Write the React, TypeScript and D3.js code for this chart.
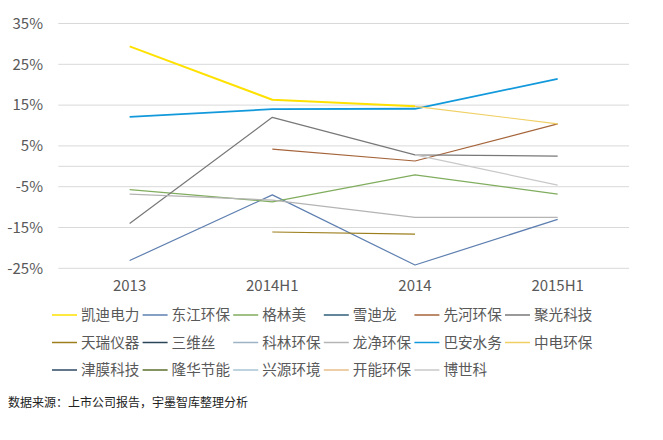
import React from "react";
import * as d3 from "d3";

// categories and tick values
const categories = ["2013", "2014H1", "2014", "2015H1"];
const yTicks = [-25, -15, -5, 5, 15, 25, 35];

// growth values (%); null = no point
const kaidi = [29.4, 16.3, 14.7, null];
const dongjiang = [-23.1, -7.0, -24.2, -13.0];
const gelinmei = [-5.7, -8.7, -2.1, -6.8];
const juguang = [-14.0, 12.0, 2.8, 2.5];
const xianhe = [null, 4.2, 1.3, 10.4];
const tianrui = [null, -16.1, -16.6, null];
const longjing = [-6.8, -8.3, -12.5, -12.5];
const baan = [12.1, 14.0, 14.1, 21.4];
const zhongdian = [null, null, 14.7, 10.4];
const boshike = [null, null, 2.8, -4.6];
const empty = [null, null, null, null];

const names = [
  "凯迪电力", "东江环保", "格林美", "雪迪龙", "先河环保", "聚光科技",
  "天瑞仪器", "三维丝", "科林环保", "龙净环保", "巴安水务", "中电环保",
  "津膜科技", "隆华节能", "兴源环境", "开能环保", "博世科",
];
const values = [
  kaidi, dongjiang, gelinmei, empty, xianhe, juguang,
  tianrui, empty, empty, longjing, baan, zhongdian,
  empty, empty, empty, empty, boshike,
];
const colors = [
  "#ffe100", "#5e7fb0", "#80ad5e", "#2f5f78", "#a5643a", "#787878",
  "#9c7e1c", "#2a4458", "#9db3c6", "#b4b4b4", "#1199dc", "#f0cf62",
  "#2e4a66", "#5c6e2c", "#a9c4d6", "#e8be8a", "#c8c8c8",
];
const widths = [
  2, 1.2, 1.2, 1.2, 1.2, 1.2,
  1.2, 1.2, 1.2, 1.2, 1.8, 1.2,
  1.2, 1.2, 1.2, 1.2, 1.2,
];

const font = "'Noto Sans CJK SC', 'Noto Sans', sans-serif";

const App = () => {
  const width = 663;
  const height = 440;
  const plot = { left: 58.3, right: 629, top: 23.5, bottom: 268.3 };

  const x = d3
    .scaleBand()
    .domain(categories)
    .range([plot.left, plot.right])
    .padding(0);
  const cx = (c) => x(c) + x.bandwidth() / 2;

  const y = d3.scaleLinear().domain([-25, 35]).range([plot.bottom, plot.top]);

  const line = d3
    .line()
    .defined((d) => d != null)
    .x((d, i) => cx(categories[i]))
    .y((d) => y(d));

  // legend grid
  const legendX = 52;
  const legendY = 315;
  const colW = 90.6;
  const rowH = 27.5;

  return (
    <svg
      width={width}
      height={height}
      style={{ position: "absolute", left: 0, top: 0, background: "#fff" }}
    >
      {/* gridlines */}
      {yTicks.map((t) => (
        <line
          key={t}
          x1={plot.left}
          x2={plot.right}
          y1={y(t)}
          y2={y(t)}
          stroke="#d9d9d9"
          strokeWidth={1}
        />
      ))}
      {/* horizontal axis line at zero */}
      <line
        x1={plot.left}
        x2={plot.right}
        y1={y(0)}
        y2={y(0)}
        stroke="#d9d9d9"
        strokeWidth={1}
      />

      {yTicks.map((t) => (
        <text
          key={"l" + t}
          x={43}
          y={y(t)}
          dy="0.35em"
          textAnchor="end"
          fontFamily={font}
          fontSize={15}
          fill="#595959"
        >
          {t + "%"}
        </text>
      ))}

      {categories.map((c) => (
        <text
          key={c}
          x={cx(c)}
          y={286}
          dy="0.35em"
          textAnchor="middle"
          fontFamily={font}
          fontSize={15}
          fill="#595959"
        >
          {c}
        </text>
      ))}

      {/* series lines */}
      {values.map((v, i) => (
        <path
          key={names[i]}
          d={line(v) || ""}
          fill="none"
          stroke={colors[i]}
          strokeWidth={widths[i]}
          strokeLinejoin="round"
        />
      ))}

      {/* legend */}
      {names.map((n, i) => {
        const lx = legendX + (i % 6) * colW;
        const ly = legendY + Math.floor(i / 6) * rowH;
        return (
          <g key={"lg" + n} transform={`translate(${lx},${ly})`}>
            <line x1={0} x2={25} y1={0} y2={0} stroke={colors[i]} strokeWidth={1.5} />
            <text
              x={29}
              y={0}
              dy="0.35em"
              fontFamily={font}
              fontSize={14.6}
              fill="#595959"
            >
              {n}
            </text>
          </g>
        );
      })}

      <text
        x={8}
        y={403}
        dy="0.35em"
        fontFamily={font}
        fontSize={12}
        fill="#222"
      >
        数据来源：上市公司报告，宇墨智库整理分析
      </text>
    </svg>
  );
};

export default App;
